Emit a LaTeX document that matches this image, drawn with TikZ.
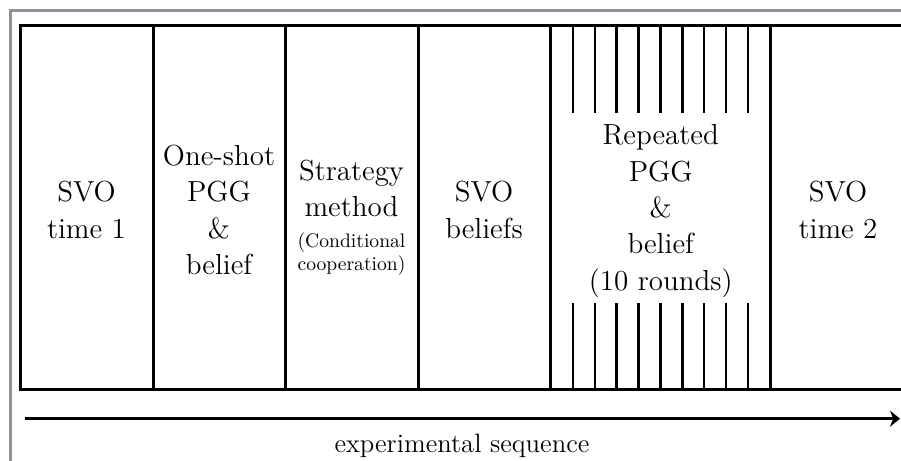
\documentclass[tikz,border=0pt]{standalone}
\usepackage{tikz}
\usetikzlibrary{positioning}
\usetikzlibrary{arrows.meta}
\usepackage{xcolor}
\definecolor{framegrey}{HTML}{8E939B}
\newcommand{\smalltext}{\fontsize{9.8}{12}\selectfont}

\begin{document}
\begin{tikzpicture}[x=0.5pt, y=0.5pt,
			stage/.style={align=center, font=\fontsize{14.5}{18.2}\selectfont},
			wall/.style={black, line width=1.5pt},
			roundtick/.style={black, line width=1.1pt}]
			\useasboundingbox (0, 0) rectangle (901, 461);
			\draw[framegrey, line width=1.4pt] (10.5, 0) -- (10.5, 450.5) -- (901, 450.5);
			\draw[wall] (901, 435.5) -- (20, 435.5) -- (20, 71) -- (901, 71);
			\foreach \x in {153, 285, 418, 550.7, 770.7}
				\draw[wall] (\x, 435.5) -- (\x, 71);
			\foreach \i in {1,...,9} {
				\draw[roundtick] (550.7 + 21.95*\i, 435.5) -- (550.7 + 21.95*\i, 348.3);
				\draw[roundtick] (550.7 + 21.95*\i, 157.7) -- (550.7 + 21.95*\i, 71);
			}
			\node[stage] (svoone) at (86.5, 251) {SVO\\time 1};
			\node[stage] (oneshot) at (219, 251) {One-shot\\PGG\\\&\\belief};
			\node[stage] (strategy) at (351.5, 243.5) {Strategy\\method\\[-3pt]\smalltext (Conditional\\[-6.8pt]\smalltext cooperation)};
			\node[stage] (svobeliefs) at (484, 251) {SVO\\beliefs};
			\node[stage] (repeated) at (660.7, 250) {Repeated\\PGG\\\&\\belief\\(10 rounds)};
			\node[stage] (svotwo) at (838, 251) {SVO\\time 2};
			\coordinate (seqstart) at (25, 42.3);
			\coordinate (seqend) at (900, 42.3);
			\draw[black, line width=1.5pt, -{Stealth[length=5pt, width=8pt]}] (seqstart) -- (seqend);
			\node[font=\fontsize{13.3}{15}\selectfont, anchor=base] (seqlabel) at (462, 8) {experimental sequence};
\end{tikzpicture}
\end{document}
